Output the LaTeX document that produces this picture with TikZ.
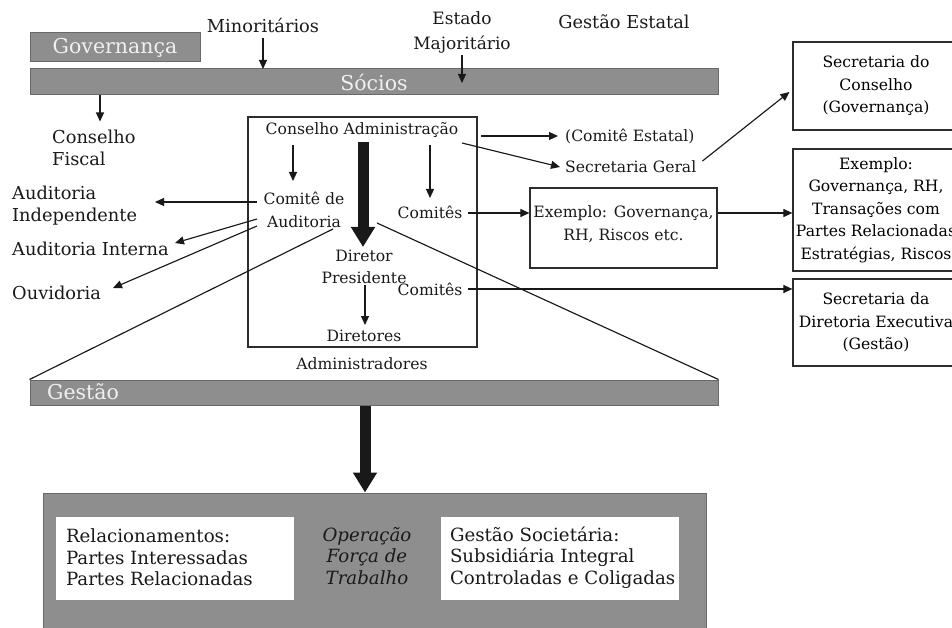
\documentclass[tikz,border=0pt]{standalone}
\usepackage{fontspec}
\setmainfont{DejaVu Serif}
\usetikzlibrary{arrows.meta,calc}
\definecolor{barfill}{RGB}{142,142,142}
\definecolor{barline}{RGB}{105,105,105}
\definecolor{boxline}{RGB}{45,45,45}
\definecolor{labtext}{RGB}{240,240,240}
\newcommand{\mainsz}{\fontsize{15.6}{22.5}\selectfont}
\newcommand{\outsz}{\fontsize{17.8}{22}\selectfont}
\newcommand{\labsz}{\fontsize{20.5}{24}\selectfont}
\newcommand{\botsz}{\fontsize{18.2}{21.5}\selectfont}
\begin{document}
\begin{tikzpicture}[x=1pt,y=-1pt,
  txt/.style={font=\mainsz, inner sep=0pt, align=center, text=black!90},
  outer/.style={font=\outsz, inner sep=0pt, align=center, text=black!90},
  lbl/.style={font=\labsz, text=labtext, inner sep=0pt},
  bar/.style={draw=barline, fill=barfill, line width=1pt, inner sep=0pt},
  framebox/.style={draw=boxline, line width=1.2pt, inner sep=0pt, font=\mainsz, align=center},
  whitebox/.style={fill=white, draw=none, inner sep=0pt, minimum width=238pt, minimum height=83pt},
  bottxt/.style={font=\botsz, align=left, inner sep=0pt, text=black!90, anchor=west},
  arr/.style={-{Triangle[length=9pt,width=8pt]}, line width=1.15pt, draw=black!90},
  ln/.style={line width=1.15pt, draw=black!90},
  bigarrow/.style={line width=11pt, draw=black!90, -{Triangle[length=20pt,width=23pt]}}]
\useasboundingbox (0,0) rectangle (952,628);
\clip (0,0) rectangle (952,628);

% bars
\node[bar, lbl, minimum width=170pt, minimum height=29pt] (gov) at (115,47.5) {Governança};
\node[bar, lbl, minimum width=688pt, minimum height=26pt] (socios) at (374,82) {Sócios};
\node[bar, minimum width=688pt, minimum height=25pt] (gestao) at (374,392.5) {};
\node[lbl, anchor=west] (gestaolbl) at (47,392) {Gestão};
\node[bar, minimum width=663pt, minimum height=152pt] (opbox) at (374.5,569) {};
\node[whitebox] (relbox) at (175,558.5) {};
\node[whitebox] (socbox) at (560,558.5) {};
\node[bottxt] (rel) at ($(relbox.west)+(10,-1)$)
  {Relacionamentos:\\Partes Interessadas\\Partes Relacionadas};
\node[bottxt] (soc) at ($(socbox.west)+(9,-1)$)
  {Gestão Societária:\\Subsidiária Integral\\Controladas e Coligadas};
\node[font=\botsz\itshape, align=center, inner sep=0pt, text=black!90] (oper) at (367,556)
  {Operação\\Força de\\Trabalho};

% admin frame
\node[framebox, minimum width=229pt, minimum height=230pt] (admin) at (362.5,232) {};

% right boxes
\node[framebox, minimum width=166pt, minimum height=88pt] (seccons) at (876,86)
  {Secretaria do\\Conselho\\(Governança)};
\node[framebox, minimum width=166pt, minimum height=122pt] (ex2) at (876,210)
  {Exemplo:\\Governança, RH,\\Transações com\\Partes Relacionadas\\Estratégias, Riscos};
\node[framebox, minimum width=166pt, minimum height=87pt] (secdir) at (876,322.5)
  {Secretaria da\\Diretoria Executiva\\(Gestão)};
\node[framebox, minimum width=187pt, minimum height=80pt] (ex1) at (623.5,228) {};
\node[txt] (ex1txt) at (623.5,224) {Exemplo: Governança,\\RH, Riscos etc.};

% texts
\node[outer] (minor) at (263,26) {Minoritários};
\node[outer, font=\fontsize{17}{24.5}\selectfont] (estado) at (462,32.5) {Estado\\Majoritário};
\node[outer] (gestest) at (624,22) {Gestão Estatal};
\node[outer, align=left, anchor=west] (cfiscal) at (52,147.5) {Conselho\\Fiscal};
\node[txt] (cadm) at (362,130) {Conselho Administração};
\node[txt] (comaud) at (304,210) {Comitê de\\Auditoria};
\node[txt] (comites1) at (430,212) {Comitês};
\node[txt] (dirpres) at (364,267) {Diretor\\Presidente};
\node[txt] (diretores) at (364,336) {Diretores};
\node[txt] (comites2) at (430,289) {Comitês};
\node[txt] (adms) at (362,364) {Administradores};
\node[txt, anchor=west] (comest) at (565,136) {(Comitê Estatal)};
\node[txt, anchor=west] (secger) at (565,167) {Secretaria Geral};
\node[outer, align=left, anchor=west] (audind) at (12,206) {Auditoria\\Independente};
\node[outer, anchor=west] (audint) at (12,249) {Auditoria Interna};
\node[outer, anchor=west] (ouv) at (12,293) {Ouvidoria};

% connectors
\draw[arr] ($(minor)+(0,12)$) -- ($(socios)+(-111,-13)$);
\draw[arr] ($(estado)+(0,23)$) -- ($(socios)+(88,1)$);
\draw[arr] ($(socios)+(-274,13)$) -- ($(cfiscal.west)+(48,-26)$);
\draw[arr] ($(cadm)+(-69,15)$) -- ($(comaud)+(-11,-29)$);
\draw[arr] ($(cadm)+(68,15)$) -- ($(comites1)+(0,-14)$);
\draw[bigarrow] ($(cadm)+(1,12)$) -- ($(dirpres)+(-1,-20)$);
\draw[arr] ($(dirpres)+(1,18)$) -- ($(diretores)+(1,-11)$);
\draw[arr] ($(comaud)+(-47,-8)$) -- ($(audind.west)+(143,-4)$);
\draw[arr] ($(comaud)+(-47,9)$) -- ($(audint.west)+(163,-6)$);
\draw[arr] ($(comaud)+(-47,16)$) -- ($(ouv.west)+(101,-5)$);
\draw[ln] ($(comaud)+(29,19)$) -- (gestao.north west);
\draw[ln] ($(dirpres)+(13,-44)$) -- (gestao.north east);
\draw[arr] ($(comites1)+(38,1)$) -- ($(ex1.west)+(0,-15)$);
\draw[arr] ($(ex1.east)+(0,-15)$) -- ($(ex2.west)+(0,3)$);
\draw[arr] ($(comites2)+(38,0)$) -- ($(secdir.west)+(0,-33.5)$);
\draw[arr] ($(cadm)+(119,6)$) -- ($(comest.west)+(-7,0)$);
\draw[arr] ($(cadm)+(100,13)$) -- ($(secger.west)+(-5,0)$);
\draw[arr] ($(secger.east)+(6,-6)$) -- ($(seccons.west)+(-3,6)$);
\draw[bigarrow] ($(gestao.south)+(-9,0)$) -- ($(opbox.north)+(-9.5,0)$);
\end{tikzpicture}
\end{document}
